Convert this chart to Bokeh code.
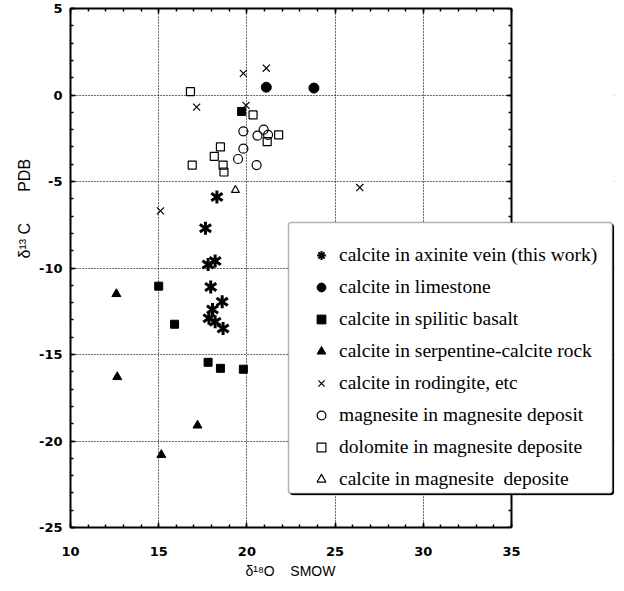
import math
from bokeh.plotting import figure
from bokeh.models import (Range1d, LinearAxis, SingleIntervalTicker, Legend,
                          LegendItem, Grid, Title, BoxAnnotation,
                          CustomJSTickFormatter)
from bokeh.embed import file_html
from bokeh.resources import INLINE

# ---------------- data ----------------
axinite_x = [18.3, 17.65, 18.2, 17.8, 17.95, 18.6, 18.05, 17.85, 18.2, 18.65]
axinite_y = [-5.9, -7.7, -9.6, -9.8, -11.1, -11.95, -12.4, -12.9, -13.1, -13.5]

limestone_x = [21.1, 23.8]
limestone_y = [0.45, 0.4]

basalt_x = [19.7, 15.0, 15.9, 17.8, 18.5, 19.8]
basalt_y = [-0.95, -11.05, -13.25, -15.45, -15.8, -15.85]

serpentine_x = [12.6, 12.65, 17.2, 15.15]
serpentine_y = [-11.5, -16.3, -19.1, -20.8]

rodingite_x = [19.8, 21.1, 17.15, 19.95, 15.1, 26.4]
rodingite_y = [1.25, 1.55, -0.7, -0.6, -6.7, -5.35]

magnesite_x = [19.8, 20.95, 20.6, 21.2, 19.8, 19.5, 20.55]
magnesite_y = [-2.1, -2.0, -2.35, -2.3, -3.1, -3.7, -4.05]

dolomite_x = [16.8, 20.35, 21.15, 21.8, 18.5, 18.15, 16.9, 18.65, 18.7]
dolomite_y = [0.2, -1.15, -2.7, -2.3, -3.0, -3.55, -4.05, -4.05, -4.45]

calc_mag_x = [19.35]
calc_mag_y = [-5.5]

legend_labels = [
    "calcite in axinite vein (this work)",
    "calcite in limestone",
    "calcite in spilitic basalt",
    "calcite in serpentine-calcite rock",
    "calcite in rodingite, etc",
    "magnesite in magnesite deposit",
    "dolomite in magnesite deposite",
    "calcite in magnesite\u00a0 deposite",
]

NB = "\u00a0"
x_title = "δ¹⁸O" + NB * 4 + "SMOW"
y_title = "δ¹³" + NB + "C" + NB * 7 + "PDB"

X_MIN, X_MAX = 10, 35
Y_MIN, Y_MAX = -25, 5
X_EXTRA = 5.84   # blank room right of the plot box, where the legend sticks out

# ---------------- figure ----------------
p = figure(width=616, height=583,
           x_range=Range1d(X_MIN, X_MAX + X_EXTRA), y_range=Range1d(Y_MIN, Y_MAX),
           output_backend="svg", toolbar_location=None,
           x_axis_location=None, y_axis_location=None,
           min_border_left=70, min_border_right=2, min_border_top=8,
           min_border_bottom=56)
p.background_fill_color = "white"
p.border_fill_color = "white"
p.outline_line_color = None


def make_axis(show_labels, **kw):
    ax = LinearAxis(ticker=SingleIntervalTicker(interval=5, num_minor_ticks=5), **kw)
    ax.axis_line_color = "black"
    ax.axis_line_width = 2
    ax.major_tick_in = 5
    ax.major_tick_out = 0
    ax.minor_tick_in = 3
    ax.minor_tick_out = 0
    ax.major_tick_line_width = 1.5
    ax.minor_tick_line_width = 1.5
    ax.major_tick_line_color = "black"
    ax.minor_tick_line_color = "black"
    if show_labels:
        ax.formatter = CustomJSTickFormatter(code="return String(tick)")
        ax.major_label_text_font = "DejaVu Sans"
        ax.major_label_text_font_style = "bold"
        ax.major_label_text_font_size = "13px"
        ax.major_label_text_color = "black"
    else:
        ax.formatter = CustomJSTickFormatter(code="return ''")
        ax.major_label_text_font_size = "1px"
        ax.major_label_standoff = 0
    return ax


xb = make_axis(True, bounds=(X_MIN, X_MAX))
xb.major_label_standoff = 19
p.add_layout(xb, "below")
yl = make_axis(True)
yl.major_label_standoff = 8
p.add_layout(yl, "left")
p.add_layout(make_axis(False, bounds=(X_MIN, X_MAX)), "above")
p.add_layout(make_axis(False, fixed_location=X_MAX), "right")

p.add_layout(Title(text=x_title, align="left", offset=175, standoff=4,
                   text_font="Liberation Sans", text_font_size="14px",
                   text_font_style="normal", text_color="black"), "below")
p.add_layout(Title(text=y_title, align="left", offset=269, standoff=8,
                   text_font="Liberation Sans", text_font_size="16px",
                   text_font_style="normal", text_color="black"), "left")

for dim in (0, 1):
    g = Grid(dimension=dim, ticker=SingleIntervalTicker(interval=5))
    if dim == 0:
        g.bounds = (X_MIN, X_MAX)
    g.grid_line_color = "black"
    g.grid_line_dash = "1 2"
    g.grid_line_width = 1
    p.add_layout(g)

# hide the horizontal grid lines right of the plot box
p.add_layout(BoxAnnotation(left=X_MAX, fill_color="white", fill_alpha=1,
                           line_color=None, level="glyph"))

# ---------------- markers ----------------
r_ast1 = p.scatter(axinite_x, axinite_y, marker="y", size=13, line_color="black",
                   line_width=3)
r_ast2 = p.scatter(axinite_x, axinite_y, marker="y", size=13, angle=math.pi,
                   line_color="black", line_width=3)
r_ast_leg = p.scatter(axinite_x, axinite_y, marker="asterisk", size=12,
                      line_color="black", line_width=2, visible=False)
r_lime = p.scatter(limestone_x, limestone_y, marker="circle", size=10,
                   fill_color="black", line_color="black")
r_bas = p.scatter(basalt_x, basalt_y, marker="square", size=8,
                  fill_color="black", line_color="black")
r_ser = p.scatter(serpentine_x, serpentine_y, marker="triangle", size=9,
                  fill_color="black", line_color="black")
r_rod = p.scatter(rodingite_x, rodingite_y, marker="x", size=10,
                  line_color="black", line_width=1.2)
r_mag = p.scatter(magnesite_x, magnesite_y, marker="circle", size=9,
                  fill_color=None, line_color="black", line_width=1.2)
r_dol = p.scatter(dolomite_x, dolomite_y, marker="square", size=8,
                  fill_color=None, line_color="black", line_width=1.2)
r_cm = p.scatter(calc_mag_x, calc_mag_y, marker="triangle", size=8,
                 fill_color=None, line_color="black", line_width=1.2)

# ---------------- legend (box drawn separately, with a drop shadow) ----------------
p.add_layout(BoxAnnotation(left=219.5, right=543.5, bottom=32.5, top=303.5,
                           left_units="screen", right_units="screen",
                           bottom_units="screen", top_units="screen",
                           fill_color="black", fill_alpha=1, line_color="black",
                           line_width=1, border_radius=3))
p.add_layout(BoxAnnotation(left=218, right=542, bottom=34, top=305,
                           left_units="screen", right_units="screen",
                           bottom_units="screen", top_units="screen",
                           fill_color="white", fill_alpha=1, line_color="black",
                           line_width=1.5, border_radius=3))

rends = [[r_ast_leg], [r_lime], [r_bas], [r_ser], [r_rod], [r_mag], [r_dol], [r_cm]]
items = [LegendItem(label=lab, renderers=rr) for lab, rr in zip(legend_labels, rends)]

legend = Legend(items=items, location=(240, 37), padding=2, spacing=10,
                glyph_height=22, glyph_width=22, label_height=22,
                label_standoff=7, label_text_font="Liberation Serif",
                label_text_font_size="19.5px", label_text_color="black",
                border_line_color=None, background_fill_alpha=0,
                inactive_fill_alpha=0)
p.add_layout(legend)

open("out.html", "w").write(file_html(p, INLINE))
